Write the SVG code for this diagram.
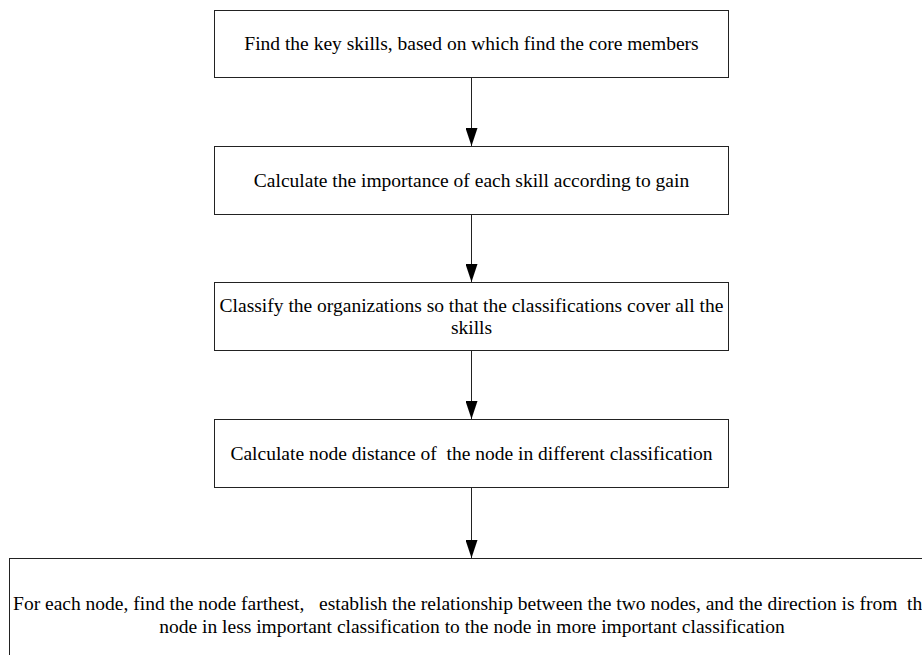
<svg xmlns="http://www.w3.org/2000/svg" width="922" height="655" viewBox="0 0 922 655">
<style>
.box{fill:#fff;stroke:#222;stroke-width:1}
.t{font-family:"Liberation Serif","Times New Roman",serif;font-size:19.5px;fill:#000;text-anchor:middle;white-space:pre}
.c{stroke:#222;stroke-width:1;fill:none}
</style>
<defs>
<marker id="ah" viewBox="0 0 18 12" refX="18" refY="6" markerWidth="18" markerHeight="12" markerUnits="userSpaceOnUse" orient="auto">
<path d="M0,0 L18,6 L0,12 Z" fill="#000"/>
</marker>
</defs>
<rect width="922" height="655" fill="#fff"/>
<g id="n1"><rect class="box" x="214.5" y="10.5" width="514" height="67"/><text class="t" x="471.5" y="50">Find the key skills, based on which find the core members</text></g>
<g id="n2"><rect class="box" x="214.5" y="146.5" width="514" height="68"/><text class="t" x="471.5" y="187">Calculate the importance of each skill according to gain</text></g>
<g id="n3"><rect class="box" x="214.5" y="282.5" width="514" height="68"/><text class="t" x="471.5" y="312">Classify the organizations so that the classifications cover all the</text><text class="t" x="471.5" y="334">skills</text></g>
<g id="n4"><rect class="box" x="214.5" y="419.5" width="514" height="68"/><text class="t" x="471.5" y="460">Calculate node distance of  the node in different classification</text></g>
<g id="n5"><rect class="box" x="9.5" y="558.5" width="925" height="120"/><text class="t" x="472" y="610">For each node, find the node farthest,   establish the relationship between the two nodes, and the direction is from  the</text><text class="t" x="472" y="633">node in less important classification to the node in more important classification</text></g>
<g id="connectors">
<line class="c" x1="471.5" y1="77.5" x2="471.5" y2="146" marker-end="url(#ah)"/>
<line class="c" x1="471.5" y1="214.5" x2="471.5" y2="282" marker-end="url(#ah)"/>
<line class="c" x1="471.5" y1="350.5" x2="471.5" y2="419" marker-end="url(#ah)"/>
<line class="c" x1="471.5" y1="487.5" x2="471.5" y2="558" marker-end="url(#ah)"/>
</g>
</svg>
